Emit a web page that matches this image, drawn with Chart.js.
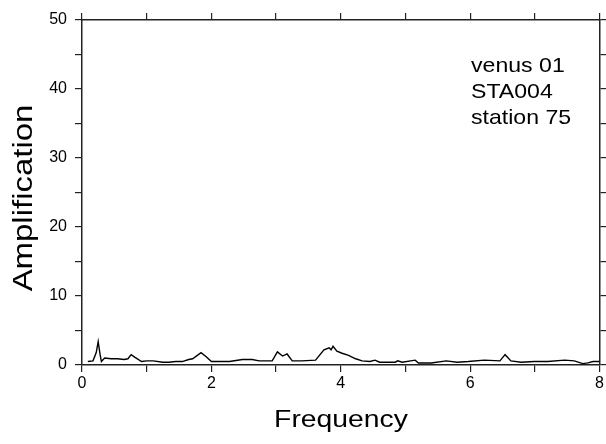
<!DOCTYPE html>
<html>
<head>
<meta charset="utf-8">
<script src="https://cdn.jsdelivr.net/npm/chart.js@4/dist/chart.umd.min.js"></script>
<style>
  html, body { margin: 0; padding: 0; background: #fff; }
  #wrap { width: 606px; height: 444px; }
</style>
</head>
<body>
<div id="wrap"><canvas id="amp-chart" width="606" height="444"></canvas></div>
<script>
'use strict';

// spectral ratio
const frequency = [0.09, 0.17, 0.22, 0.25, 0.28, 0.30, 0.35, 0.45, 0.55, 0.65,
    0.71, 0.76, 0.82, 0.92, 1.00, 1.10, 1.25, 1.34, 1.45, 1.55,
    1.65, 1.71, 1.84, 1.92, 2.00, 2.15, 2.28, 2.48, 2.63, 2.74,
    2.94, 3.02, 3.10, 3.17, 3.25, 3.40, 3.61, 3.74, 3.82, 3.85,
    3.88, 3.94, 4.02, 4.12, 4.23, 4.33, 4.45, 4.53, 4.60, 4.84,
    4.88, 4.95, 5.15, 5.20, 5.40, 5.63, 5.80, 5.97, 6.22, 6.46,
    6.54, 6.63, 6.79, 6.99, 7.20, 7.46, 7.61, 7.74, 7.82, 7.90,
    7.97, 8.00];
const amplification = [0.5, 0.6, 1.8, 3.4, 1.5, 0.5, 1.0, 0.9, 0.9, 0.8,
    0.9, 1.5, 1.1, 0.5, 0.6, 0.6, 0.4, 0.4, 0.5, 0.5,
    0.8, 0.9, 1.8, 1.2, 0.5, 0.5, 0.5, 0.8, 0.8, 0.6,
    0.6, 1.9, 1.3, 1.6, 0.6, 0.6, 0.7, 2.2, 2.5, 2.2,
    2.7, 2.0, 1.7, 1.4, 0.9, 0.6, 0.5, 0.7, 0.4, 0.4,
    0.6, 0.4, 0.7, 0.3, 0.3, 0.6, 0.4, 0.5, 0.7, 0.6,
    1.5, 0.6, 0.4, 0.5, 0.5, 0.7, 0.6, 0.2, 0.3, 0.5,
    0.5, 0.5];
const xTickLabels = [0, 2, 4, 6, 8];
const yTickLabels = [0, 10, 20, 30, 40, 50];
const infoLines = ['venus 01', 'STA004', 'station 75'];
const xTitle = 'Frequency';
const yTitle = 'Amplification';

const FONT = '"Liberation Sans", Arial, Helvetica, sans-serif';

function axisOpts(position, min, max, step, labels, fit) {
    const isMain = position === 'bottom' || position === 'left';
    return {
        type: 'linear',
        position: position,
        min: min,
        max: max,
        ticks: {
            display: isMain,
            stepSize: step,
            autoSkip: false,
            maxRotation: 0,
            padding: position === 'left' ? 8 : 2,
            color: '#000',
            font: { family: FONT, size: 16 },
            callback: (v) => labels.includes(v) ? String(v) : ''
        },
        grid: {
            drawOnChartArea: false,
            drawTicks: true,
            tickLength: 7,
            color: '#222',
            lineWidth: 1.2
        },
        border: { display: true, color: '#222', width: 1.5 },
        afterFit: fit
    };
}

const titles = {
    id: 'plot_texts',
    afterDraw: (chart) => {
        const ctx = chart.ctx;
        ctx.save();
        ctx.fillStyle = '#000';

        // x title
        ctx.save();
        ctx.font = '24px ' + FONT;
        ctx.textAlign = 'center';
        ctx.textBaseline = 'alphabetic';
        ctx.translate(341, 427);
        ctx.scale(1.18, 1);
        ctx.fillText(xTitle, 0, 0);
        ctx.restore();

        // y title
        ctx.save();
        ctx.font = '27px ' + FONT;
        ctx.textAlign = 'center';
        ctx.textBaseline = 'alphabetic';
        ctx.translate(32, 198);
        ctx.rotate(-Math.PI / 2);
        ctx.scale(1.22, 1);
        ctx.fillText(yTitle, 0, 0);
        ctx.restore();

        // run info
        ctx.save();
        ctx.font = '21px ' + FONT;
        ctx.textAlign = 'left';
        infoLines.forEach((t, i) => {
            ctx.save();
            ctx.translate(471, 72 + i * 26);
            ctx.scale(1.1, 1);
            ctx.fillText(t, 0, 0);
            ctx.restore();
        });
        ctx.restore();

        ctx.restore();
    }
};

const ctx = document.getElementById('amp-chart');
const ampChart = new Chart(ctx, {
    type: 'scatter',
    data: {
        datasets: [{
            label: 'Amplification',
            data: frequency.map((f, i) => ({ x: f, y: amplification[i] })),
            showLine: true,
            borderColor: '#000',
            borderWidth: 1.4,
            pointRadius: 0,
            tension: 0,
            xAxisID: 'x',
            yAxisID: 'y'
        }]
    },
    options: {
        responsive: false,
        animation: false,
        devicePixelRatio: 1,
        layout: { padding: 0 },
        plugins: {
            legend: { display: false },
            tooltip: { enabled: false }
        },
        scales: {
            x: axisOpts('bottom', 0, 8, 1, xTickLabels, (s) => { s.height = 79; }),
            x2: axisOpts('top', 0, 8, 1, xTickLabels, (s) => { s.height = 20; }),
            y: axisOpts('left', 0, 50, 5, yTickLabels, (s) => { s.width = 82; }),
            y2: axisOpts('right', 0, 50, 5, yTickLabels, (s) => { s.width = 4; })
        }
    },
    plugins: [titles]
});
</script>
</body>
</html>
